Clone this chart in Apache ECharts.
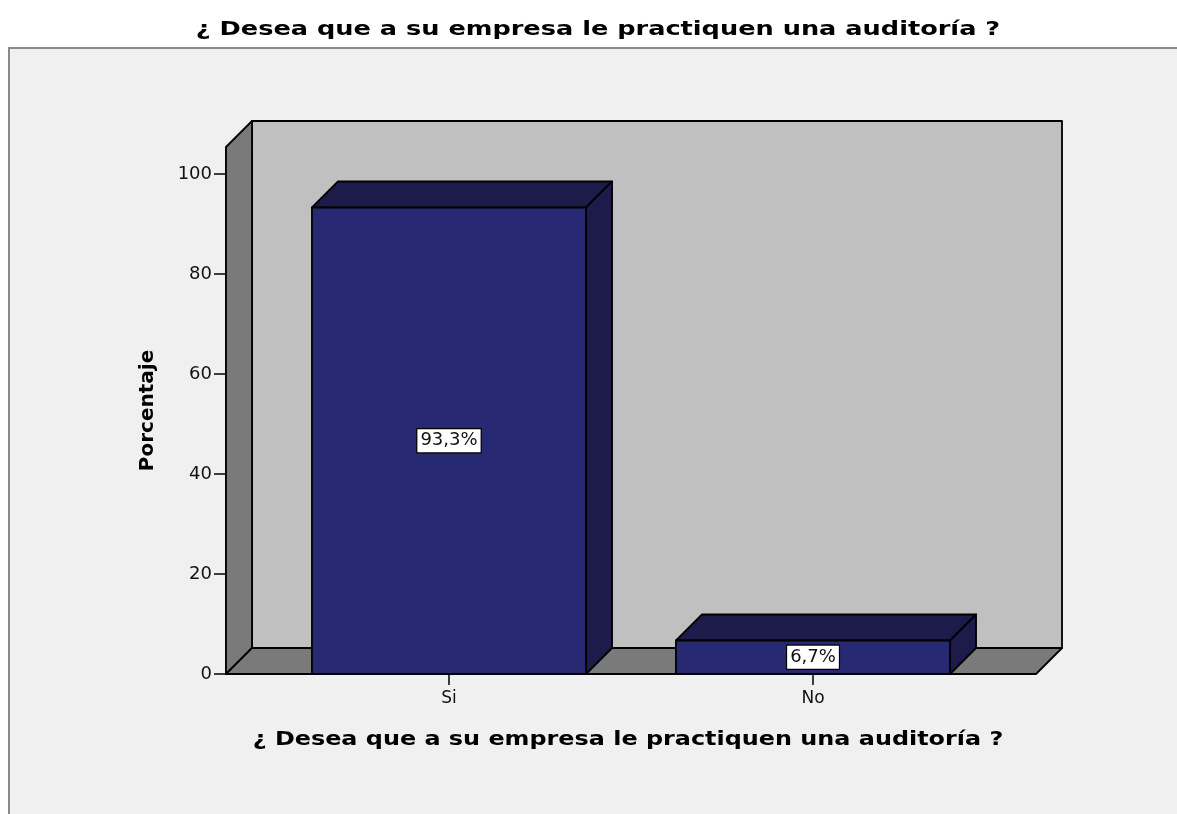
<!DOCTYPE html>
<html>
<head>
<meta charset="utf-8">
<script src="https://cdn.jsdelivr.net/npm/echarts@6/dist/echarts.min.js"></script>
<style>
  html, body { margin: 0; padding: 0; background: #ffffff; }
  #chart { width: 1177px; height: 814px; }
</style>
</head>
<body>
<div id="chart"></div>
<script>
// ---- data ----
const chartTitle = '¿ Desea que a su empresa le practiquen una auditoría ?';
const xAxisTitle = '¿ Desea que a su empresa le practiquen una auditoría ?';
const yAxisTitle = 'Porcentaje';
const categories = ['Si', 'No'];
const percentages = [93.3, 6.7];
const yTickValues = [0, 20, 40, 60, 80, 100];
const yMin = 0;
const yMax = 105.4;
const yInterval = 20;

// ---- style constants ----
const DEPTH = 26;        // 3D depth offset in px
const WALL_EXT = 41;     // floor / wall extension beyond grid in px
const BAR_RATIO = 0.753; // bar width relative to category band

function fmtPct(v) {
  return v.toFixed(1).replace('.', ',') + '%';
}

const chart = echarts.init(document.getElementById('chart'), null, { renderer: 'canvas' });

const option = {
  backgroundColor: '#ffffff',
  animation: false,
  grid: { left: 267, right: 182, top: 147, bottom: 140, containLabel: false },
  xAxis: {
    type: 'category',
    data: categories,
    axisLine: { show: true, lineStyle: { color: '#000', width: 1.5 } },
    axisTick: { show: true, alignWithLabel: true, length: 11, lineStyle: { color: '#000', width: 1.5 } },
    axisLabel: { margin: 16, fontFamily: 'DejaVu Sans', fontSize: 17, color: '#111' },
    splitLine: { show: false }
  },
  yAxis: {
    type: 'value',
    min: yMin,
    max: yMax,
    interval: yInterval,
    offset: WALL_EXT,
    name: yAxisTitle,
    nameLocation: 'middle',
    nameRotate: 90,
    nameGap: 68,
    nameTextStyle: { fontFamily: 'DejaVu Sans', fontWeight: 'bold', fontSize: 20, color: '#000' },
    axisLine: { show: true, lineStyle: { color: '#000', width: 1.5 } },
    axisTick: { show: true, length: 12, customValues: yTickValues, lineStyle: { color: '#000', width: 1.5 } },
    axisLabel: {
      margin: 14, fontFamily: 'DejaVu Sans', fontSize: 18, color: '#111',
      customValues: yTickValues
    },
    splitLine: { show: false }
  },
  graphic: [
    {
      type: 'rect', z: -10, silent: true,
      shape: { x: 9, y: 48, width: 1200, height: 800 },
      style: { fill: '#f0f0f0', stroke: '#8a8a8a', lineWidth: 2 }
    },
    {
      type: 'text', x: 598, y: 30, scaleX: 1.28, z: 10,
      style: {
        text: chartTitle, align: 'center', verticalAlign: 'middle',
        fontFamily: 'DejaVu Sans', fontWeight: 'bold', fontSize: 20, fill: '#000'
      }
    },
    {
      type: 'text', x: 628, y: 740, scaleX: 1.225, z: 10,
      style: {
        text: xAxisTitle, align: 'center', verticalAlign: 'middle',
        fontFamily: 'DejaVu Sans', fontWeight: 'bold', fontSize: 19.5, fill: '#000'
      }
    }
  ],
  series: [
    {
      // walls and floor of the 3D box
      type: 'custom',
      z: 1,
      clip: false,
      silent: true,
      data: [[0, 0]],
      renderItem: function (params, api) {
        const cs = params.coordSys;
        const xl = cs.x - WALL_EXT;
        const xr = cs.x + cs.width + WALL_EXT;
        const yt = cs.y;
        const yb = cs.y + cs.height;
        const d = DEPTH;
        const stroke = { stroke: '#000', lineWidth: 1.8, lineJoin: 'round' };
        return {
          type: 'group',
          children: [
            { type: 'rect', shape: { x: xl + d, y: yt - d, width: xr - xl, height: yb - yt }, style: Object.assign({ fill: '#c0c0c0' }, stroke) },
            { type: 'polygon', shape: { points: [[xl, yb], [xl, yt], [xl + d, yt - d], [xl + d, yb - d]] }, style: Object.assign({ fill: '#7a7a7a' }, stroke) },
            { type: 'polygon', shape: { points: [[xl, yb], [xr, yb], [xr + d, yb - d], [xl + d, yb - d]] }, style: Object.assign({ fill: '#7a7a7a' }, stroke) }
          ]
        };
      }
    },
    {
      // 3D bars
      type: 'custom',
      z: 3,
      clip: false,
      data: categories.map(function (c, i) { return [i, percentages[i]]; }),
      renderItem: function (params, api) {
        const idx = api.value(0);
        const v = api.value(1);
        const top = api.coord([idx, v]);
        const base = api.coord([idx, 0]);
        const bw = api.size([1, 0])[0] * BAR_RATIO;
        const x0 = top[0] - bw / 2, x1 = top[0] + bw / 2;
        const yt = top[1], yb = base[1];
        const d = DEPTH;
        const stroke = { stroke: '#000', lineWidth: 1.8, lineJoin: 'round' };
        return {
          type: 'group',
          children: [
            { type: 'polygon', shape: { points: [[x0, yt], [x0 + d, yt - d], [x1 + d, yt - d], [x1, yt]] }, style: Object.assign({ fill: '#1c1b4a' }, stroke) },
            { type: 'polygon', shape: { points: [[x1, yt], [x1 + d, yt - d], [x1 + d, yb - d], [x1, yb]] }, style: Object.assign({ fill: '#1c1b4a' }, stroke) },
            { type: 'rect', shape: { x: x0, y: yt, width: bw, height: yb - yt }, style: Object.assign({ fill: '#282973' }, stroke) },
            {
              type: 'text', x: (x0 + x1) / 2, y: (yt + yb) / 2,
              style: {
                text: fmtPct(v), align: 'center', verticalAlign: 'middle',
                fontFamily: 'DejaVu Sans', fontSize: 18, fill: '#111',
                backgroundColor: '#ffffff', borderColor: '#000', borderWidth: 1.2,
                padding: [3, 3, 2, 3]
              }
            }
          ]
        };
      }
    }
  ]
};

chart.setOption(option);
</script>
</body>
</html>
